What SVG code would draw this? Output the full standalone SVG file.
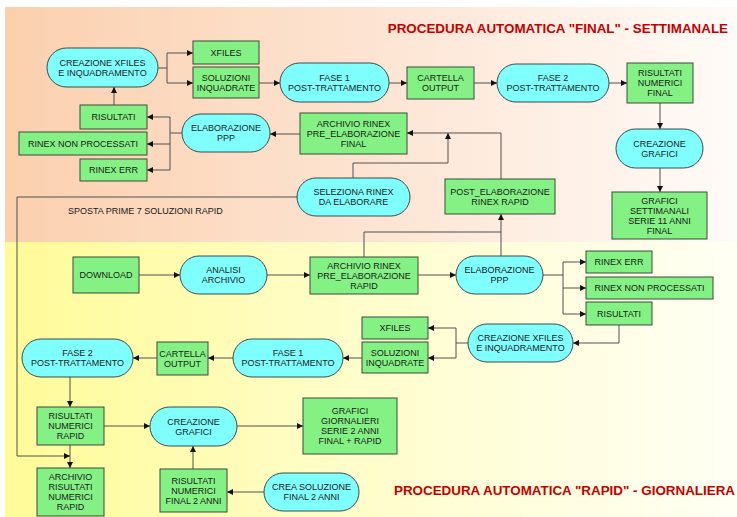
<svg xmlns="http://www.w3.org/2000/svg" width="737" height="517" viewBox="0 0 737 517">
<defs>
<linearGradient id="gTop" x1="0" y1="0" x2="1" y2="0">
<stop offset="0" stop-color="#fbd0ae"/>
<stop offset="0.5" stop-color="#fde4d2"/>
<stop offset="1" stop-color="#fffbf8"/>
</linearGradient>
<linearGradient id="gBot" x1="0" y1="0" x2="1" y2="0">
<stop offset="0" stop-color="#fffb98"/>
<stop offset="0.5" stop-color="#fffdcc"/>
<stop offset="1" stop-color="#fffff4"/>
</linearGradient>
<marker id="ah" viewBox="0 0 10 10" refX="10" refY="5" markerWidth="6" markerHeight="6" markerUnits="userSpaceOnUse" orient="auto">
<path d="M0,0 L10,5 L0,10 z" fill="#111"/>
</marker>
<style>
.box{fill:#84f184;stroke:#3c4a3c;stroke-width:1}
.pill{fill:#80ffff;stroke:#3c4a4a;stroke-width:1}
text{font-family:"Liberation Sans",Arial,sans-serif;font-size:9px;fill:#1a1a1a;text-anchor:middle}
.title{font-size:13.4px;font-weight:bold;fill:#c40000;text-anchor:end}
.lbl{text-anchor:start}
.c{fill:none;stroke:#505050;stroke-width:1}
.a{marker-end:url(#ah)}
</style>
</defs>
<rect x="5" y="7" width="732" height="235" fill="url(#gTop)"/>
<rect x="5" y="242" width="732" height="275" fill="url(#gBot)"/>
<text class="title" x="728" y="33">PROCEDURA AUTOMATICA "FINAL" - SETTIMANALE</text>
<text class="title" x="735" y="495">PROCEDURA AUTOMATICA "RAPID" - GIORNALIERA</text>
<text class="lbl" x="68" y="214">SPOSTA PRIME 7 SOLUZIONI RAPID</text>

<g id="connectors">
<path class="c" d="M158,68 H167 V53"/>
<path class="c a" d="M167,53 H193"/>
<path class="c a" d="M167,68 V83 H193"/>
<path class="c a" d="M259,83 H280"/>
<path class="c a" d="M389,83 H407"/>
<path class="c a" d="M474,83 H497"/>
<path class="c a" d="M609,83 H627"/>
<path class="c a" d="M660,103 V129"/>
<path class="c a" d="M660,168 V192"/>
<path class="c a" d="M114,105 V87"/>
<path class="c" d="M182,133 H170"/>
<path class="c a" d="M170,133 V117 H147"/>
<path class="c a" d="M170,133 V144 H147"/>
<path class="c a" d="M170,144 V170 H147"/>
<path class="c a" d="M300,134 H270"/>
<path class="c a" d="M353,178 V163 H448 V133"/>
<path class="c a" d="M501,179 V133 H407"/>
<path class="c a" d="M501,256 V214"/>
<path class="c" d="M364,257 V232 H501"/>
<path class="c a" d="M297,197 H17 V456 H70"/>
<path class="c a" d="M139,275 H180"/>
<path class="c a" d="M267,275 H310"/>
<path class="c a" d="M418,275 H456"/>
<path class="c" d="M543,275 H563"/>
<path class="c a" d="M563,275 V262 H586"/>
<path class="c a" d="M563,275 V288 H586"/>
<path class="c a" d="M563,288 V314 H586"/>
<path class="c a" d="M619,325 V343 H573"/>
<path class="c" d="M468,343 H456"/>
<path class="c a" d="M456,343 V328 H428"/>
<path class="c a" d="M456,343 V358 H428"/>
<path class="c a" d="M362,358 H343"/>
<path class="c a" d="M233,358 H208"/>
<path class="c a" d="M157,358 H133"/>
<path class="c a" d="M70,377 V407"/>
<path class="c a" d="M104,426 H150"/>
<path class="c a" d="M237,426 H303"/>
<path class="c a" d="M70,445 V468"/>
<path class="c a" d="M193,469 V446"/>
<path class="c a" d="M264,492 H227"/>
</g>

<g id="f_creazione_xfiles"><rect class="pill" x="47" y="48" width="111" height="39" rx="19.5"/><text x="102.5" y="65.8">CREAZIONE XFILES<tspan x="102.5" dy="10">E INQUADRAMENTO</tspan></text></g>
<g id="f_xfiles"><rect class="box" x="193" y="41" width="66" height="23"/><text x="226" y="55.8">XFILES</text></g>
<g id="f_soluzioni"><rect class="box" x="193" y="67" width="66" height="31"/><text x="226" y="80.8">SOLUZIONI<tspan x="226" dy="10">INQUADRATE</tspan></text></g>
<g id="f_fase1"><rect class="pill" x="280" y="63" width="109" height="39" rx="19.5"/><text x="334.5" y="80.8">FASE 1<tspan x="334.5" dy="10">POST-TRATTAMENTO</tspan></text></g>
<g id="f_cartella"><rect class="box" x="407" y="67" width="67" height="32"/><text x="440.5" y="81.3">CARTELLA<tspan x="440.5" dy="10">OUTPUT</tspan></text></g>
<g id="f_fase2"><rect class="pill" x="497" y="64" width="112" height="38" rx="19"/><text x="553" y="81.3">FASE 2<tspan x="553" dy="10">POST-TRATTAMENTO</tspan></text></g>
<g id="f_risultati_numerici"><rect class="box" x="627" y="63" width="66" height="40"/><text x="660" y="76.3">RISULTATI<tspan x="660" dy="10">NUMERICI</tspan><tspan x="660" dy="10">FINAL</tspan></text></g>
<g id="f_creazione_grafici"><rect class="pill" x="616" y="129" width="87" height="39" rx="19.5"/><text x="659.5" y="146.8">CREAZIONE<tspan x="659.5" dy="10">GRAFICI</tspan></text></g>
<g id="f_grafici_settimanali"><rect class="box" x="612" y="192" width="95" height="47"/><text x="659.5" y="203.8">GRAFICI<tspan x="659.5" dy="10">SETTIMANALI</tspan><tspan x="659.5" dy="10">SERIE 11 ANNI</tspan><tspan x="659.5" dy="10">FINAL</tspan></text></g>
<g id="f_risultati"><rect class="box" x="80" y="105" width="67" height="24"/><text x="113.5" y="120.3">RISULTATI</text></g>
<g id="f_rinex_non"><rect class="box" x="19" y="132" width="128" height="23"/><text x="83" y="146.8">RINEX NON PROCESSATI</text></g>
<g id="f_rinex_err"><rect class="box" x="80" y="159" width="67" height="22"/><text x="113.5" y="173.3">RINEX ERR</text></g>
<g id="f_elaborazione_ppp"><rect class="pill" x="182" y="114" width="88" height="38" rx="19"/><text x="226" y="131.3">ELABORAZIONE<tspan x="226" dy="10">PPP</tspan></text></g>
<g id="f_archivio_final"><rect class="box" x="300" y="113" width="107" height="41"/><text x="353.5" y="126.8">ARCHIVIO RINEX<tspan x="353.5" dy="10">PRE_ELABORAZIONE</tspan><tspan x="353.5" dy="10">FINAL</tspan></text></g>
<g id="f_seleziona"><rect class="pill" x="297" y="178" width="113" height="38" rx="19"/><text x="353.5" y="195.3">SELEZIONA RINEX<tspan x="353.5" dy="10">DA ELABORARE</tspan></text></g>
<g id="f_post_elaborazione"><rect class="box" x="445" y="179" width="110" height="35"/><text x="500" y="194.8">POST_ELABORAZIONE<tspan x="500" dy="10">RINEX RAPID</tspan></text></g>

<g id="r_download"><rect class="box" x="73" y="257" width="66" height="36"/><text x="106" y="278.3">DOWNLOAD</text></g>
<g id="r_analisi"><rect class="pill" x="180" y="256" width="87" height="38" rx="19"/><text x="223.5" y="273.3">ANALISI<tspan x="223.5" dy="10">ARCHIVIO</tspan></text></g>
<g id="r_archivio_rapid"><rect class="box" x="310" y="257" width="108" height="37"/><text x="364" y="268.8">ARCHIVIO RINEX<tspan x="364" dy="10">PRE_ELABORAZIONE</tspan><tspan x="364" dy="10">RAPID</tspan></text></g>
<g id="r_elaborazione_ppp"><rect class="pill" x="456" y="256" width="87" height="38" rx="19"/><text x="499.5" y="273.3">ELABORAZIONE<tspan x="499.5" dy="10">PPP</tspan></text></g>
<g id="r_rinex_err"><rect class="box" x="586" y="251" width="66" height="22"/><text x="619" y="265.3">RINEX ERR</text></g>
<g id="r_rinex_non"><rect class="box" x="586" y="277" width="127" height="22"/><text x="649.5" y="291.3">RINEX NON PROCESSATI</text></g>
<g id="r_risultati"><rect class="box" x="586" y="302" width="66" height="23"/><text x="619" y="316.8">RISULTATI</text></g>
<g id="r_creazione_xfiles"><rect class="pill" x="468" y="324" width="105" height="38" rx="19"/><text x="520.5" y="341.3">CREAZIONE XFILES<tspan x="520.5" dy="10">E INQUADRAMENTO</tspan></text></g>
<g id="r_xfiles"><rect class="box" x="362" y="317" width="66" height="22"/><text x="395" y="331.3">XFILES</text></g>
<g id="r_soluzioni"><rect class="box" x="362" y="342" width="66" height="31"/><text x="395" y="355.8">SOLUZIONI<tspan x="395" dy="10">INQUADRATE</tspan></text></g>
<g id="r_fase1"><rect class="pill" x="233" y="339" width="110" height="38" rx="19"/><text x="288" y="356.3">FASE 1<tspan x="288" dy="10">POST-TRATTAMENTO</tspan></text></g>
<g id="r_cartella"><rect class="box" x="157" y="342" width="51" height="33"/><text x="182.5" y="356.8">CARTELLA<tspan x="182.5" dy="10">OUTPUT</tspan></text></g>
<g id="r_fase2"><rect class="pill" x="22" y="339" width="111" height="38" rx="19"/><text x="77.5" y="356.3">FASE 2<tspan x="77.5" dy="10">POST-TRATTAMENTO</tspan></text></g>
<g id="r_risultati_numerici"><rect class="box" x="37" y="407" width="67" height="38"/><text x="70.5" y="419.3">RISULTATI<tspan x="70.5" dy="10">NUMERICI</tspan><tspan x="70.5" dy="10">RAPID</tspan></text></g>
<g id="r_creazione_grafici"><rect class="pill" x="150" y="407" width="87" height="39" rx="19.5"/><text x="193.5" y="424.8">CREAZIONE<tspan x="193.5" dy="10">GRAFICI</tspan></text></g>
<g id="r_grafici_giornalieri"><rect class="box" x="303" y="398" width="94" height="56"/><text x="350" y="414.3">GRAFICI<tspan x="350" dy="10">GIORNALIERI</tspan><tspan x="350" dy="10">SERIE 2 ANNI</tspan><tspan x="350" dy="10">FINAL + RAPID</tspan></text></g>
<g id="r_archivio_risultati"><rect class="box" x="37" y="468" width="67" height="48"/><text x="70.5" y="480.3">ARCHIVIO<tspan x="70.5" dy="10">RISULTATI</tspan><tspan x="70.5" dy="10">NUMERICI</tspan><tspan x="70.5" dy="10">RAPID</tspan></text></g>
<g id="r_risultati_final2"><rect class="box" x="160" y="469" width="67" height="43"/><text x="193.5" y="483.8">RISULTATI<tspan x="193.5" dy="10">NUMERICI</tspan><tspan x="193.5" dy="10">FINAL 2 ANNI</tspan></text></g>
<g id="r_crea_soluzione"><rect class="pill" x="264" y="473" width="95" height="38" rx="19"/><text x="311.5" y="490.3">CREA SOLUZIONE<tspan x="311.5" dy="10">FINAL 2 ANNI</tspan></text></g>
</svg>
